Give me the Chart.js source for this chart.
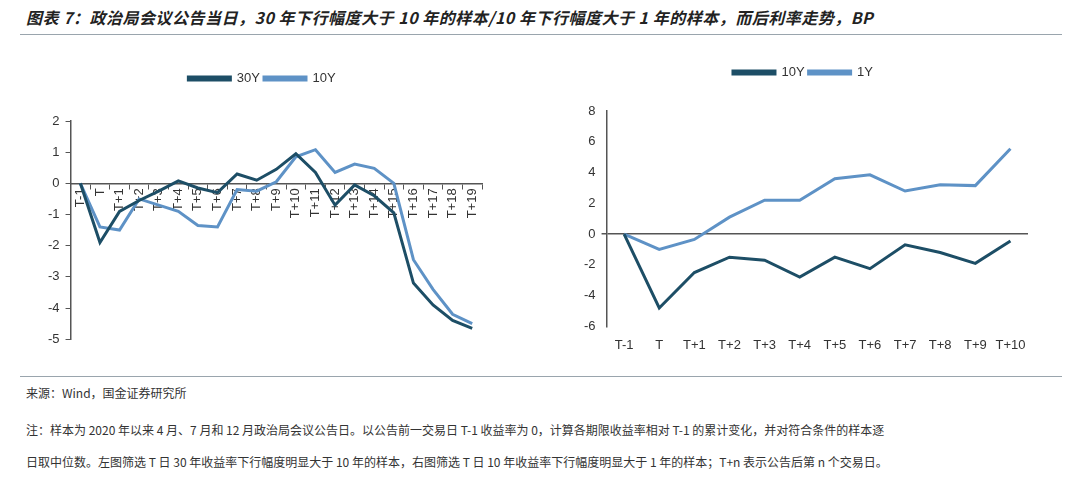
<!DOCTYPE html>
<html>
<head>
<meta charset="utf-8">
<script src="https://cdn.jsdelivr.net/npm/chart.js@4"></script>
<style>
  body { margin: 0; width: 1080px; height: 483px; background: #fff; position: relative; overflow: hidden;
         font-family: "Noto Sans CJK SC", sans-serif; color: #222; }
  .title { position: absolute; left: 26px; top: 5px; font-size: 16px; font-weight: bold; font-style: italic; letter-spacing: 0.5px; }
  .rule { position: absolute; left: 20px; width: 1042px; height: 1px; background: #9aa5ad; }
  .note { position: absolute; left: 26px; font-size: 12px; color: #333; }
  #left { position: absolute; left: 42px; top: 68px; }
  #right { position: absolute; left: 578px; top: 62px; }
</style>
</head>
<body>
<div class="title">图表 7：政治局会议公告当日，30 年下行幅度大于 10 年的样本/10 年下行幅度大于 1 年的样本，而后利率走势，BP</div>
<div class="rule" style="top:34px"></div>
<div id="left" style="width:480px;height:285px"><canvas id="c1"></canvas></div>
<div id="right" style="width:470px;height:294px"><canvas id="c2"></canvas></div>
<div class="rule" style="top:376px"></div>
<div class="note" style="top:384px">来源：Wind，国金证券研究所</div>
<div class="note" style="top:421px">注：样本为 2020 年以来 4 月、7 月和 12 月政治局会议公告日。以公告前一交易日 T-1 收益率为 0，计算各期限收益率相对 T-1 的累计变化，并对符合条件的样本逐</div>
<div class="note" style="top:453px">日取中位数。左图筛选 T 日 30 年收益率下行幅度明显大于 10 年的样本，右图筛选 T 日 10 年收益率下行幅度明显大于 1 年的样本；T+n 表示公告后第 n 个交易日。</div>
<script>
// Left chart data
const leftLabels = ['T-1','T','T+1','T+2','T+3','T+4','T+5','T+6','T+7','T+8','T+9','T+10','T+11','T+12','T+13','T+14','T+15','T+16','T+17','T+18','T+19'];
const left30Y = [0, -1.9, -0.9, -0.55, -0.25, 0.08, -0.15, -0.3, 0.3, 0.1, 0.45, 0.95, 0.35, -0.7, -0.05, -0.4, -0.95, -3.2, -3.9, -4.4, -4.65];
const left10Y = [0, -1.4, -1.5, -0.5, -0.7, -0.9, -1.35, -1.4, -0.2, -0.25, 0.05, 0.85, 1.08, 0.35, 0.62, 0.48, 0.0, -2.45, -3.4, -4.2, -4.5];

// Right chart data
const rightLabels = ['T-1','T','T+1','T+2','T+3','T+4','T+5','T+6','T+7','T+8','T+9','T+10'];
const right10Y = [0, -4.8, -2.5, -1.5, -1.7, -2.8, -1.5, -2.25, -0.7, -1.2, -1.9, -0.45];
const right1Y = [0, -1.0, -0.35, 1.1, 2.2, 2.2, 3.6, 3.85, 2.8, 3.2, 3.15, 5.55];

const DARK = '#1d4e66';
const LIGHT = '#5e92c6';
const AXIS = '#555';
const FONT = { family: 'Liberation Sans, Arial, sans-serif', size: 13 };

function lineSet(label, data, color) {
    return { label, data, borderColor: color, backgroundColor: color, borderWidth: 3,
             pointRadius: 0, tension: 0, fill: false };
}

function legendOpts() {
    return {
        display: true,
        labels: { boxWidth: 42, boxHeight: 3, color: '#333', font: FONT, padding: 4 }
    };
}

// extra room under the legend
function legendGap(gap) {
    return {
        id: 'legendGap',
        beforeInit(chart) {
            const fit = chart.legend.fit;
            chart.legend.fit = function () {
                fit.bind(chart.legend)();
                this.height += gap;
            };
        }
    };
}

// dark zero line across the plot
function zeroLine(ctx) {
    return ctx.tick && ctx.tick.value === 0 ? AXIS : 'rgba(0,0,0,0)';
}

// Left chart
new Chart(document.getElementById('c1'), {
    type: 'line',
    data: {
        labels: leftLabels,
        datasets: [lineSet('30Y', left30Y, DARK), lineSet('10Y', left10Y, LIGHT)]
    },
    plugins: [legendGap(26)],
    options: {
        responsive: true,
        maintainAspectRatio: false,
        animation: false,
        layout: { padding: { left: 0, right: 40, top: 0, bottom: 0 } },
        plugins: { legend: legendOpts(), tooltip: { enabled: false } },
        scales: {
            x: {
                position: { y: 0 },
                offset: true,
                grid: { offset: true, drawOnChartArea: false, color: AXIS, tickLength: 5 },
                border: { color: AXIS, width: 1.5 },
                ticks: { color: '#333', font: FONT, minRotation: 90, maxRotation: 90, autoSkip: false, padding: 0 }
            },
            y: {
                min: -5, max: 2,
                grid: { drawOnChartArea: false, color: AXIS, tickLength: 5 },
                border: { color: AXIS, width: 1.5 },
                ticks: { stepSize: 1, color: '#333', font: FONT, padding: 6 }
            }
        }
    }
});

// Right chart
new Chart(document.getElementById('c2'), {
    type: 'line',
    data: {
        labels: rightLabels,
        datasets: [lineSet('10Y', right10Y, DARK), lineSet('1Y', right1Y, LIGHT)]
    },
    plugins: [legendGap(22)],
    options: {
        responsive: true,
        maintainAspectRatio: false,
        animation: false,
        layout: { padding: { left: 0, right: 20, top: 0, bottom: 0 } },
        plugins: { legend: legendOpts(), tooltip: { enabled: false } },
        scales: {
            x: {
                offset: true,
                grid: { display: false },
                border: { display: false },
                ticks: { color: '#333', font: FONT, maxRotation: 0, autoSkip: false }
            },
            y: {
                min: -6, max: 8,
                grid: { drawOnChartArea: true, color: zeroLine, lineWidth: 1.5, tickLength: 5, drawTicks: true },
                border: { color: AXIS, width: 1.5 },
                ticks: { stepSize: 2, color: '#333', font: FONT, padding: 6 }
            }
        }
    }
});
</script>
</body>
</html>
